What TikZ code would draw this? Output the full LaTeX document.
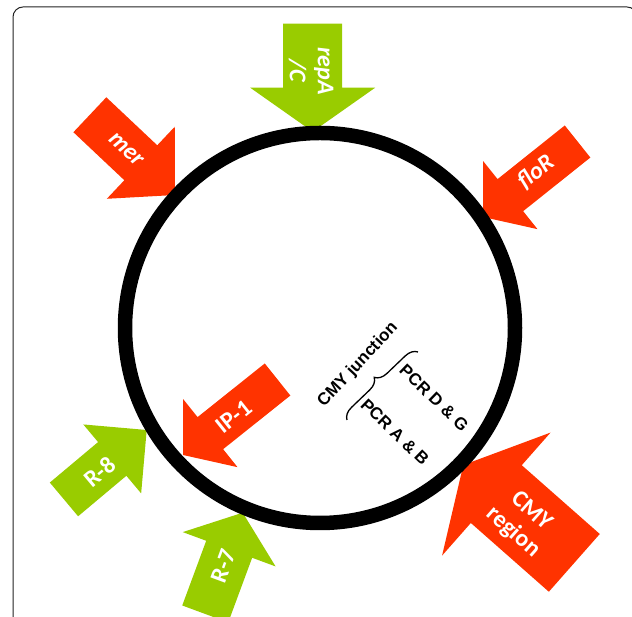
\documentclass[tikz,border=0pt]{standalone}
\usepackage{fontspec}
\setmainfont{Carlito}
\newfontfamily\arialf{Liberation Sans}
\usetikzlibrary{decorations.pathreplacing}
\definecolor{pgreen}{HTML}{99CC00}
\definecolor{pred}{HTML}{FF3300}
\definecolor{framecol}{HTML}{222222}
\newcommand{\blockarr}[7]{%
  \begin{scope}[shift={#1}, rotate=#2]
    \fill[#7] (0,0) -- (-#6,#5/2) -- (-#6,#4/2) -- (-#3,#4/2) -- (-#3,-#4/2)
      -- (-#6,-#4/2) -- (-#6,-#5/2) -- cycle;
  \end{scope}}
\tikzset{
  arrtext/.style={text=white, font=\fontsize{24}{28}\selectfont\bfseries, align=center, inner sep=0pt},
  inner/.style={text=black, font=\arialf\fontsize{17}{20}\selectfont\bfseries, inner sep=0pt},
  ring/.style={draw=black, line width=14.5pt},
}
\begin{document}
\begin{tikzpicture}[x=1pt,y=1pt]
\useasboundingbox (0,0) rectangle (632,617);
\clip (0,0) rectangle (632,617);
% frame
\draw[framecol, line width=1pt, rounded corners=10pt] (13,-20) -- (13,610) -- (637,610) -- (637,-20);
% arrows
\blockarr{(312.7,485.3)}{-90}{108}{59}{125}{44}{pgreen}
\blockarr{(175,422)}{-43.3}{117}{48}{99}{47}{pred}
\blockarr{(483,400)}{218.6}{121}{41}{87}{35}{pred}
\blockarr{(183,162)}{218.6}{121}{41}{87}{35}{pred}
\blockarr{(146.7,187)}{40}{108}{44}{90}{45}{pgreen}
\blockarr{(242.7,104.3)}{69.7}{108}{49}{99}{39}{pgreen}
\blockarr{(463.3,152)}{138.6}{148}{77}{164}{44}{pred}
% ring
\node[circle, ring, minimum size=390pt, inner sep=0pt] (plasmid) at (320,289) {};
% arrow labels
\node[arrtext, rotate=-90] (repA) at (311,546) {\itshape repA\\\itshape /C};
\node[arrtext, rotate=-43.3] (mer) at (126,467) {\itshape mer};
\node[arrtext, rotate=38.6] (floR) at (536,445) {\itshape floR};
\node[arrtext, rotate=38.6] (ip1) at (234,200) {IP-1};
\node[arrtext, rotate=40] (r8) at (100,145) {R-8};
\node[arrtext, rotate=69.7] (r7) at (223,51) {R-7};
\node[arrtext, rotate=-41.4] (cmyr) at (522,95) {CMY\\region};
% inner labels
\node[inner, rotate=47] (junc) at (358,252) {CMY junction};
\node[inner, rotate=-44] (pcrdg) at (434,219) {PCR D \& G};
\node[inner, rotate=-44] (pcrab) at (395,185) {PCR A \& B};
\coordinate (b1) at (347,197);
\coordinate (b2) at (418,265);
\draw[line width=1.3pt, decorate, decoration={brace, amplitude=12pt}] (b1) -- (b2);
\end{tikzpicture}
\end{document}
